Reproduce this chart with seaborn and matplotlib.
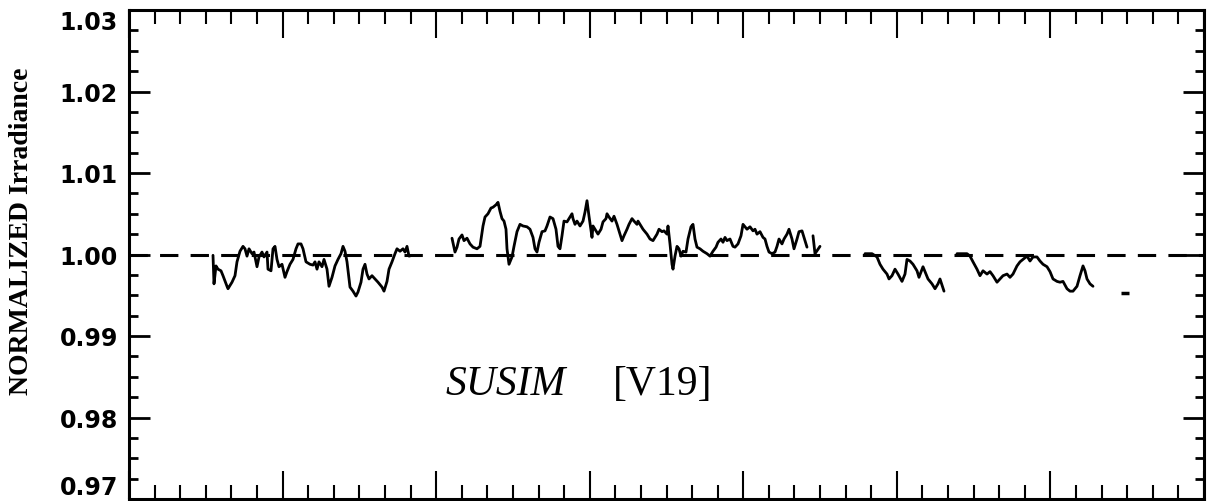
import matplotlib as mpl
import matplotlib.pyplot as plt
import numpy as np
import pandas as pd
import seaborn as sns

mpl.use("Agg")

# day index along the record (axis spans 0..1075), normalized irradiance values
seg1_day = [84, 85, 87, 89, 92, 94, 98, 99, 103, 106, 108, 111, 114, 116, 118, 120,
            123, 125, 128, 130, 133, 135, 138, 139, 142, 144, 146, 148, 150, 153, 156,
            158, 161, 164, 167, 169, 172, 174, 177, 181, 184, 186, 188, 190, 193, 195,
            198, 200, 203, 206, 209, 212, 214, 216, 218, 221, 224, 227, 229, 232, 234,
            236, 238, 240, 243, 246, 249, 253, 255, 258, 260, 263, 266, 268, 271, 274,
            276, 278, 280, 283]
seg1_irr = [0.9999, 0.9964, 0.9986, 0.9982, 0.9980, 0.9974, 0.9961, 0.9958, 0.9966,
            0.9974, 0.9991, 1.0004, 1.0010, 1.0007, 0.9998, 1.0007, 1.0001, 1.0003,
            0.9985, 0.9997, 1.0003, 0.9997, 1.0003, 0.9982, 0.9980, 1.0007, 1.0010,
            0.9994, 0.9985, 0.9988, 0.9972, 0.9979, 0.9988, 0.9994, 1.0007, 1.0013,
            1.0013, 1.0007, 0.9991, 0.9988, 0.9987, 0.9991, 0.9982, 0.9991, 0.9985,
            0.9994, 0.9982, 0.9961, 0.9972, 0.9986, 0.9994, 1.0001, 1.0010, 1.0004,
            0.9991, 0.9960, 0.9955, 0.9949, 0.9954, 0.9966, 0.9982, 0.9988, 0.9976,
            0.9970, 0.9974, 0.9970, 0.9966, 0.9960, 0.9955, 0.9967, 0.9982, 0.9991,
            1.0001, 1.0007, 1.0004, 1.0007, 1.0003, 1.0010, 0.9998, 0.9999]

seg2_day = [323, 326, 328, 330, 333, 335, 338, 341, 344, 348, 351, 354, 356, 359, 362,
            364, 367, 369, 371, 373, 375, 377, 378, 380, 383, 385, 388, 391, 394, 398,
            401, 404, 406, 408, 410, 413, 416, 418, 421, 424, 427, 429, 431, 433, 435,
            438, 440, 443, 444, 446, 448, 451, 454, 456, 458, 460, 463, 464, 467, 469,
            472, 474, 477, 478, 480, 483, 485, 488, 490, 493, 495, 498, 500, 503, 505,
            508, 509, 512, 514, 518, 521, 524, 528, 530, 533, 535, 538, 539, 541, 543,
            544, 546, 548, 550, 552, 554, 557, 559, 562, 564, 566, 568, 571, 574, 578,
            581, 584, 587, 589, 592, 594, 596, 598, 601, 604, 606, 609, 612, 614, 616,
            618, 621, 624, 626, 628, 631, 634, 636, 638, 640, 643, 646, 648, 650, 653,
            655, 658, 660, 663, 665, 668, 670, 673, 675, 678]
seg2_irr = [1.0020, 1.0003, 1.0009, 1.0019, 1.0024, 1.0017, 1.0020, 1.0013, 1.0009,
            1.0007, 1.0010, 1.0035, 1.0046, 1.0050, 1.0057, 1.0058, 1.0061, 1.0064,
            1.0053, 1.0044, 1.0041, 1.0031, 1.0007, 0.9988, 0.9997, 1.0010, 1.0028,
            1.0037, 1.0035, 1.0034, 1.0031, 1.0021, 1.0007, 1.0003, 1.0015, 1.0028,
            1.0029, 1.0035, 1.0046, 1.0044, 1.0031, 1.0010, 1.0007, 1.0023, 1.0041,
            1.0040, 1.0044, 1.0050, 1.0044, 1.0037, 1.0041, 1.0035, 1.0041, 1.0052,
            1.0066, 1.0047, 1.0021, 1.0035, 1.0029, 1.0025, 1.0031, 1.0040, 1.0044,
            1.0050, 1.0046, 1.0041, 1.0047, 1.0037, 1.0029, 1.0017, 1.0023, 1.0031,
            1.0037, 1.0044, 1.0041, 1.0037, 1.0041, 1.0035, 1.0031, 1.0025, 1.0019,
            1.0017, 1.0025, 1.0031, 1.0028, 1.0029, 1.0025, 1.0035, 1.0013, 0.9988,
            0.9982, 0.9998, 1.0010, 1.0007, 0.9998, 1.0004, 1.0003, 1.0019, 1.0034,
            1.0037, 1.0019, 1.0009, 1.0007, 1.0004, 1.0001, 0.9998, 1.0004, 1.0009,
            1.0015, 1.0019, 1.0015, 1.0021, 1.0017, 1.0019, 1.0010, 1.0009, 1.0013,
            1.0023, 1.0037, 1.0034, 1.0031, 1.0034, 1.0029, 1.0031, 1.0025, 1.0028,
            1.0021, 1.0019, 1.0010, 1.0003, 1.0001, 1.0003, 1.0010, 1.0019, 1.0013,
            1.0019, 1.0025, 1.0031, 1.0019, 1.0007, 1.0019, 1.0028, 1.0029, 1.0021,
            1.0009]

seg3_day = [684, 686, 691]
seg3_irr = [1.0023, 1.0001, 1.0010]

seg4_day = [736, 743, 748, 751, 754, 758, 760, 763, 766, 769, 773, 776, 778, 781, 784,
            788, 790, 794, 796, 799, 803, 806, 809, 811, 815]
seg4_irr = [1.0001, 1.0001, 0.9997, 0.9988, 0.9982, 0.9976, 0.9970, 0.9974, 0.9982,
            0.9976, 0.9967, 0.9976, 0.9994, 0.9992, 0.9988, 0.9980, 0.9972, 0.9985,
            0.9979, 0.9970, 0.9964, 0.9958, 0.9964, 0.9970, 0.9955]

seg5_day = [828, 838, 841, 844, 848, 851, 854, 858, 861, 864, 868, 871, 874, 878, 881,
            884, 888, 891, 894, 898, 901, 904, 908, 911, 914, 918, 921, 924, 928, 931,
            934, 938, 941, 944, 948, 951, 954, 956, 958, 961, 964]
seg5_irr = [1.0001, 1.0001, 0.9998, 0.9991, 0.9982, 0.9974, 0.9980, 0.9976, 0.9979,
            0.9974, 0.9966, 0.9970, 0.9974, 0.9976, 0.9972, 0.9976, 0.9986, 0.9991,
            0.9994, 0.9998, 0.9992, 0.9997, 0.9997, 0.9992, 0.9988, 0.9985, 0.9979,
            0.9970, 0.9967, 0.9966, 0.9967, 0.9958, 0.9955, 0.9955, 0.9961, 0.9974,
            0.9986, 0.9980, 0.9970, 0.9964, 0.9961]

single_day = [996]
single_irr = [0.9953]

y_ticks = [0.97, 0.98, 0.99, 1.00, 1.01, 1.02, 1.03]
x_max = 1075

segments = [
    (seg1_day, seg1_irr),
    (seg2_day, seg2_irr),
    (seg3_day, seg3_irr),
    (seg4_day, seg4_irr),
    (seg5_day, seg5_irr),
]
df = pd.concat(
    [pd.DataFrame({"day": d, "irr": v, "segment": i}) for i, (d, v) in enumerate(segments)],
    ignore_index=True,
)

sns.set_theme(style="ticks", rc={
    "text.color": "black",
    "axes.labelcolor": "black",
    "axes.edgecolor": "black",
    "xtick.color": "black",
    "ytick.color": "black",
})
mpl.rcParams["font.family"] = ["DejaVu Sans"]

fig = plt.figure(figsize=(12.09, 5.02), dpi=100)
ax = fig.add_axes([129 / 1209, 1 - 500 / 502, 1075 / 1209, 489 / 502])

sns.lineplot(data=df, x="day", y="irr", units="segment", estimator=None, sort=False,
             color="black", linewidth=2.0, ax=ax)
ax.plot(single_day, single_irr, marker="_", markersize=6, markeredgewidth=2.5,
        color="black", linestyle="none")
ax.axhline(1.0, color="black", linewidth=2.2, linestyle=(0, (6, 4)))

ax.set_xlim(0, x_max)
ax.set_ylim(0.97, 1.03)
ax.set_xticks(np.linspace(0, x_max, 8))
ax.set_xticks(np.linspace(0, x_max, 43), minor=True)
ax.set_yticks(y_ticks, labels=[f"{t:.2f}" for t in y_ticks])
ax.set_yticks(np.arange(0.97, 1.03001, 0.0025), minor=True)
ax.tick_params(axis="x", which="both", direction="in", top=True, bottom=True,
               labelbottom=False, width=1.5)
ax.tick_params(axis="x", which="major", length=20)
ax.tick_params(axis="x", which="minor", length=10)
ax.tick_params(axis="y", which="both", direction="in", left=True, right=True, width=2)
ax.tick_params(axis="y", which="major", length=15, pad=8)
ax.tick_params(axis="y", which="minor", length=6.5)
for lab in ax.get_yticklabels():
    lab.set_fontsize(17)
    lab.set_fontweight("bold")
    lab.set_color("black")
ylabs = ax.get_yticklabels()
ylabs[0].set_va("bottom")
ylabs[-1].set_va("top")

for sp in ax.spines.values():
    sp.set_linewidth(2.2)
    sp.set_color("black")
ax.set_xlabel("")
ax.set_ylabel("")

fig.text(22 / 1209, 1 - 231 / 502, "NORMALIZED Irradiance", rotation=90,
         ha="center", va="center", fontsize=20, fontweight="bold",
         family="Liberation Serif", color="black")
ax.text(0.294, 0.215, "SUSIM", transform=ax.transAxes, fontsize=30, style="italic",
        family="Liberation Serif", ha="left", va="baseline", color="black")
ax.text(0.450, 0.215, "[V19]", transform=ax.transAxes, fontsize=30,
        family="Liberation Serif", ha="left", va="baseline", color="black")

fig.savefig("out.png", dpi=100)
